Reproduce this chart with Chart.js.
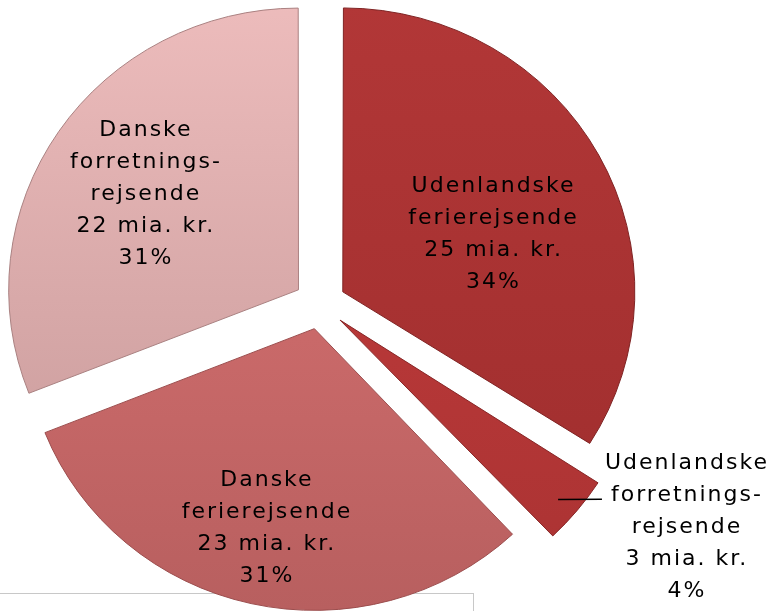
<!DOCTYPE html>
<html>
<head>
<meta charset="utf-8">
<script src="https://cdn.jsdelivr.net/npm/chart.js@4.4.0/dist/chart.umd.min.js"></script>
<style>
  html, body { margin: 0; padding: 0; background: #fff; }
  #wrap { width: 776px; height: 611px; position: relative; }
</style>
</head>
<body>
<div id="wrap"><canvas id="pie"></canvas></div>
<script>
// Turisternes forbrug, mia. kr. og andel
const categories = [
    ['Udenlandske', 'ferierejsende'],
    ['Udenlandske', 'forretnings-', 'rejsende'],
    ['Danske', 'ferierejsende'],
    ['Danske', 'forretnings-', 'rejsende']
];
const miaKr = [25, 3, 23, 22];
const andel = [34, 4, 31, 31];

// colours: top / bottom of each slice (simple lighting)
const topColors = ['#b23737', '#c43d3d', '#dc7474', '#edbcbc'];
const bottomColors = ['#9e2d2d', '#a93232', '#b65e5e', '#c39696'];
const edgeColors = ['#7e2222', '#862626', '#9a4c4c', '#a98080'];

// label placement: angle shift (deg) from slice middle, distance in radii
const labelShift = [6.2, -7.5, 0.6, -1.3];
const labelDist = [0.649, 1.50, 0.822, 0.724];

// chart.js moves an arc by offset / 4
const explode = 104;
// the original pie is a little flatter than a circle
const squashY = 0.972;

function sliceGradient(context) {
    const chart = context.chart;
    const area = chart.chartArea;
    if (!area) return topColors[context.dataIndex];
    const cy = (area.top + area.bottom) / 2;
    const g = chart.ctx.createLinearGradient(0, cy - 300, 0, cy + 320);
    g.addColorStop(0, topColors[context.dataIndex]);
    g.addColorStop(1, bottomColors[context.dataIndex]);
    return g;
}

const frameBox = {
    id: 'frameBox',
    beforeDraw(chart) {
        const ctx = chart.ctx;
        ctx.save();
        ctx.strokeStyle = '#c8c8c8';
        ctx.lineWidth = 1;
        ctx.strokeRect(-1.5, 593.5, 475, 40);
        ctx.restore();
    }
};

const flatten = {
    id: 'flatten',
    beforeDatasetsDraw(chart) {
        const a = chart.chartArea;
        const cx = (a.left + a.right) / 2, cy = (a.top + a.bottom) / 2;
        const ctx = chart.ctx;
        ctx.save();
        ctx.translate(cx, cy);
        ctx.scale(1, squashY);
        ctx.translate(-cx, -cy);
    },
    afterDatasetsDraw(chart) {
        chart.ctx.restore();
    }
};

const sliceLabels = {
    id: 'sliceLabels',
    afterDatasetsDraw(chart) {
        const ctx = chart.ctx;
        const meta = chart.getDatasetMeta(0);
        const lineH = 32;
        ctx.save();
        ctx.font = '22px "DejaVu Sans"';
        ctx.letterSpacing = '2px';
        ctx.fillStyle = '#000';
        ctx.textAlign = 'center';
        ctx.textBaseline = 'middle';
        meta.data.forEach((arc, i) => {
            const p = arc.getProps(['x', 'y', 'startAngle', 'endAngle', 'outerRadius'], true);
            const mid = (p.startAngle + p.endAngle) / 2;
            const a = mid + labelShift[i] * Math.PI / 180;
            const d = labelDist[i] * p.outerRadius;
            const lx = p.x + Math.cos(a) * d;
            const ly = p.y + Math.sin(a) * d * squashY;
            const lines = categories[i].concat([miaKr[i] + ' mia. kr.', andel[i] + '%']);
            const y0 = ly - (lines.length - 1) * lineH / 2;
            lines.forEach((t, k) => ctx.fillText(t, lx + 1, y0 + k * lineH));

            // leader line for labels placed outside the pie
            if (labelDist[i] > 1) {
                const r = p.outerRadius + explode / 4 - 5;
                const ex = p.x + Math.cos(mid) * r;
                const ey = p.y + Math.sin(mid) * r * squashY;
                ctx.beginPath();
                ctx.strokeStyle = '#000';
                ctx.lineWidth = 1.5;
                ctx.moveTo(ex, ey + 4);
                ctx.lineTo(lx - 84, y0 + lineH + 4);
                ctx.stroke();
            }
        });
        ctx.restore();
    }
};

new Chart(document.getElementById('pie'), {
    type: 'pie',
    data: {
        labels: categories,
        datasets: [{
            data: andel,
            backgroundColor: sliceGradient,
            borderColor: edgeColors,
            borderWidth: 1,
            offset: explode,
            hoverOffset: 0
        }]
    },
    options: {
        responsive: true,
        maintainAspectRatio: false,
        animation: false,
        radius: 288,
        layout: { padding: { left: 0, right: 136, top: 0, bottom: 3 } },
        plugins: {
            legend: { display: false },
            tooltip: { enabled: false }
        }
    },
    plugins: [frameBox, flatten, sliceLabels]
});
</script>
</body>
</html>
